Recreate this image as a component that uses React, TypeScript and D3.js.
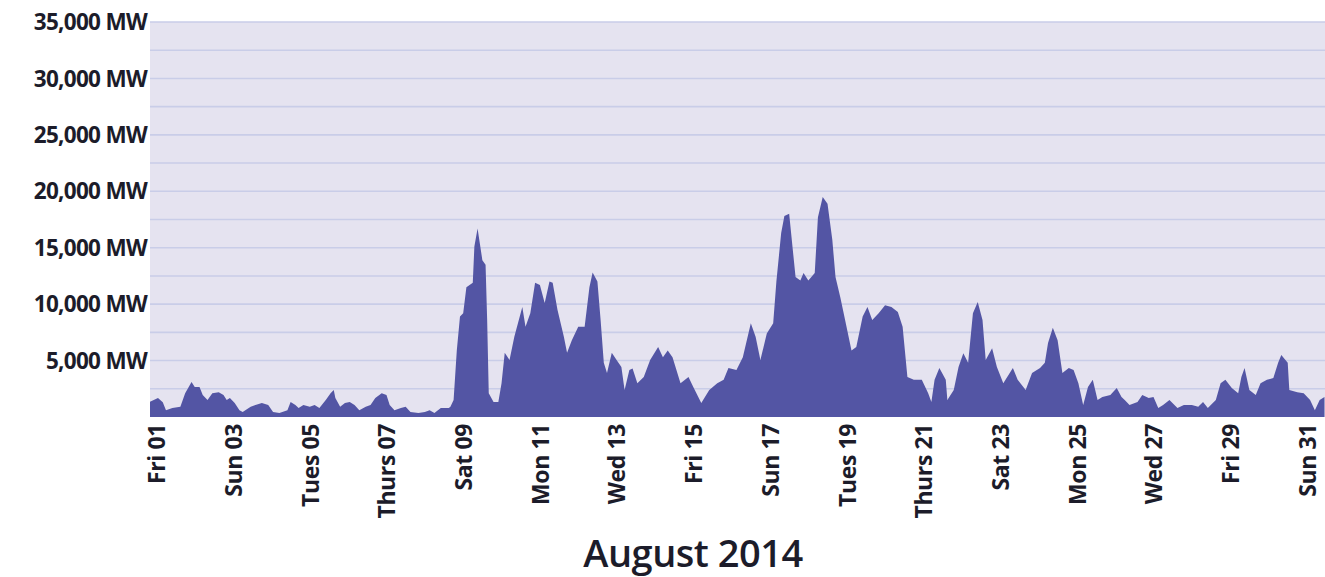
import React from "react";
import * as d3 from "d3";

// Hours since Aug 1 2014 00:00 and the power reading (MW) at that time
const readingHours: number[] = [
  0, 5, 8, 10, 14, 19, 22, 26, 28, 31, 33, 36, 39, 43, 46, 48, 50, 53, 56, 58,
  63, 66, 70, 74, 77, 81, 86, 88, 91, 93, 96, 100, 103, 106, 110, 113, 115, 116, 119, 122,
  125, 128, 131, 135, 138, 141, 145, 148, 150, 153, 157, 160, 163, 168, 172, 175, 178, 182, 187, 188,
  190, 192, 194, 196, 198, 202, 203, 205, 208, 210, 211, 212, 215, 218, 220, 222, 225, 228, 233, 235,
  238, 241, 244, 247, 250, 252, 255, 259, 261, 264, 268, 272, 275, 277, 280, 282, 284, 286, 289, 292,
  295, 297, 300, 302, 305, 309, 313, 318, 321, 324, 327, 332, 337, 340, 345, 350, 355, 359, 362, 367,
  371, 376, 379, 382, 386, 390, 392, 395, 397, 400, 404, 407, 409, 412, 416, 418, 421, 424, 427, 429,
  432, 435, 439, 442, 446, 449, 452, 456, 460, 464, 468, 471, 474, 478, 483, 487, 489, 491, 494, 498,
  499, 503, 506, 509, 512, 515, 518, 521, 523, 527, 530, 534, 540, 543, 548, 552, 557, 560, 562, 565,
  568, 571, 575, 578, 581, 584, 587, 590, 593, 596, 601, 605, 608, 610, 613, 618, 621, 625, 628, 631,
  634, 638, 643, 647, 652, 656, 659, 662, 667, 670, 673, 677, 681, 683, 685, 688, 692, 695, 699, 703,
  706, 708, 712, 713, 718, 722, 726, 729, 732, 735,
];

const readingMW: number[] = [
  1350, 1680, 1300, 600, 800, 900, 2100, 3100, 2650, 2650, 1950, 1500, 2100, 2200, 1950, 1500, 1680, 1240, 600, 450,
  900, 1060, 1240, 1060, 450, 350, 600, 1330, 1060, 800, 1060, 900, 1060, 800, 1500, 2100, 2400, 1680, 900, 1240,
  1330, 1060, 600, 900, 1060, 1680, 2100, 1950, 1060, 600, 800, 900, 450, 350, 450, 600, 350, 800, 800, 900,
  1500, 5900, 8900, 9200, 11500, 11900, 15100, 16700, 13900, 13500, 8600, 2100, 1330, 1330, 3000, 5700, 5050, 7100, 9750, 8000,
  9200, 11900, 11700, 10100, 12000, 11900, 9500, 7100, 5700, 6800, 8000, 8000, 11500, 12800, 12000, 8600, 4800, 3900, 5700, 5050,
  4430, 2400, 4160, 4300, 3000, 3550, 5050, 6200, 5300, 5900, 5300, 3000, 3550, 2650, 1240, 2400, 3000, 3300, 4350, 4160,
  5300, 8300, 7100, 5050, 7400, 8300, 12000, 16300, 17800, 18000, 12400, 12100, 12750, 12100, 12750, 17700, 19500, 18900, 15700, 12400,
  10600, 8600, 5900, 6200, 8900, 9750, 8600, 9200, 9900, 9750, 9300, 8000, 3550, 3300, 3300, 2100, 1330, 3300, 4350, 3300,
  1500, 2400, 4430, 5650, 4800, 9200, 10200, 8600, 5050, 6100, 4430, 3000, 4350, 3300, 2400, 3900, 4350, 4800, 6550, 7900,
  6800, 3900, 4350, 4160, 3000, 1060, 2650, 3300, 1500, 1770, 1950, 2570, 1770, 1500, 1060, 1330, 1950, 1680, 1770, 800,
  1060, 1500, 800, 1060, 1060, 900, 1330, 800, 1500, 3000, 3300, 2570, 2100, 3550, 4350, 2400, 1950, 3000, 3300, 3450,
  4800, 5500, 4800, 2400, 2200, 2100, 1500, 600, 1500, 1770,
];

const yTickValues: number[] = [5000, 10000, 15000, 20000, 25000, 30000, 35000];
const gridValues: number[] = d3.range(2500, 35001, 2500);

const dayTickDays: number[] = [1, 3, 5, 7, 9, 11, 13, 15, 17, 19, 21, 23, 25, 27, 29, 31];
const dayTickLabels: string[] = [
  "Fri 01", "Sun 03", "Tues 05", "Thurs 07", "Sat 09", "Mon 11", "Wed 13", "Fri 15",
  "Sun 17", "Tues 19", "Thurs 21", "Sat 23", "Mon 25", "Wed 27", "Fri 29", "Sun 31",
];

const xAxisTitle = "August 2014";

const W = 1325;
const H = 577;
const plotLeft = 150;
const plotRight = 1325;
const plotTop = 22;
const plotBottom = 417;
const dayWidth = 38.35;

const FONT = "'Open Sans', 'DejaVu Sans', sans-serif";

export default function App() {
  const start = new Date(2014, 7, 1);
  const end = new Date(2014, 8, 1);
  const x = d3
    .scaleTime()
    .domain([start, end])
    .range([plotLeft, plotLeft + 31 * dayWidth]);
  const y = d3.scaleLinear().domain([0, 35000]).range([plotBottom, plotTop]);

  const data = readingHours.map((h, i) => ({
    t: d3.timeHour.offset(start, h),
    v: readingMW[i],
  }));

  const area = d3
    .area<{ t: Date; v: number }>()
    .x((d) => x(d.t))
    .y0(y(0))
    .y1((d) => y(d.v))
    .curve(d3.curveLinear);

  const fmt = d3.format(",");

  return (
    <svg
      width={W}
      height={H}
      style={{ position: "absolute", left: 0, top: 0, background: "#ffffff" }}
    >
      <defs>
        <clipPath id="plotClip">
          <rect x={plotLeft} y={plotTop} width={plotRight - plotLeft} height={plotBottom - plotTop + 1} />
        </clipPath>
      </defs>
      <rect
        x={plotLeft}
        y={plotTop}
        width={plotRight - plotLeft}
        height={plotBottom - plotTop}
        fill="#e5e3f0"
      />
      {gridValues.map((g) => (
        <line
          key={g}
          x1={plotLeft}
          x2={plotRight}
          y1={y(g)}
          y2={y(g)}
          stroke="#c9cde8"
          strokeWidth={1.6}
        />
      ))}
      <path d={area(data) || ""} fill="#5355a4" clipPath="url(#plotClip)" />
      {yTickValues.map((v) => (
        <text
          key={v}
          x={plotLeft - 3}
          y={y(v)}
          dy="0.36em"
          textAnchor="end"
          fontFamily={FONT}
          fontWeight={700}
          fontSize={22.5}
          letterSpacing={-0.7}
          fill="#1c1c2a"
        >
          {fmt(v)} MW
        </text>
      ))}
      {dayTickDays.map((d, i) => {
        const tx = x(new Date(2014, 7, d)) + 7;
        const ty = 424;
        return (
          <text
            key={d}
            transform={`translate(${tx},${ty}) rotate(-90)`}
            dy="0.36em"
            textAnchor="end"
            fontFamily={FONT}
            fontWeight={700}
            fontSize={23}
            letterSpacing={-0.4}
            fill="#1c1c2a"
          >
            {dayTickLabels[i]}
          </text>
        );
      })}
      <text
        x={693}
        y={553}
        dy="0.36em"
        textAnchor="middle"
        fontFamily={FONT}
        fontWeight={600}
        fontSize={38}
        letterSpacing={-0.5}
        fill="#1c1c2a"
      >
        {xAxisTitle}
      </text>
    </svg>
  );
}
